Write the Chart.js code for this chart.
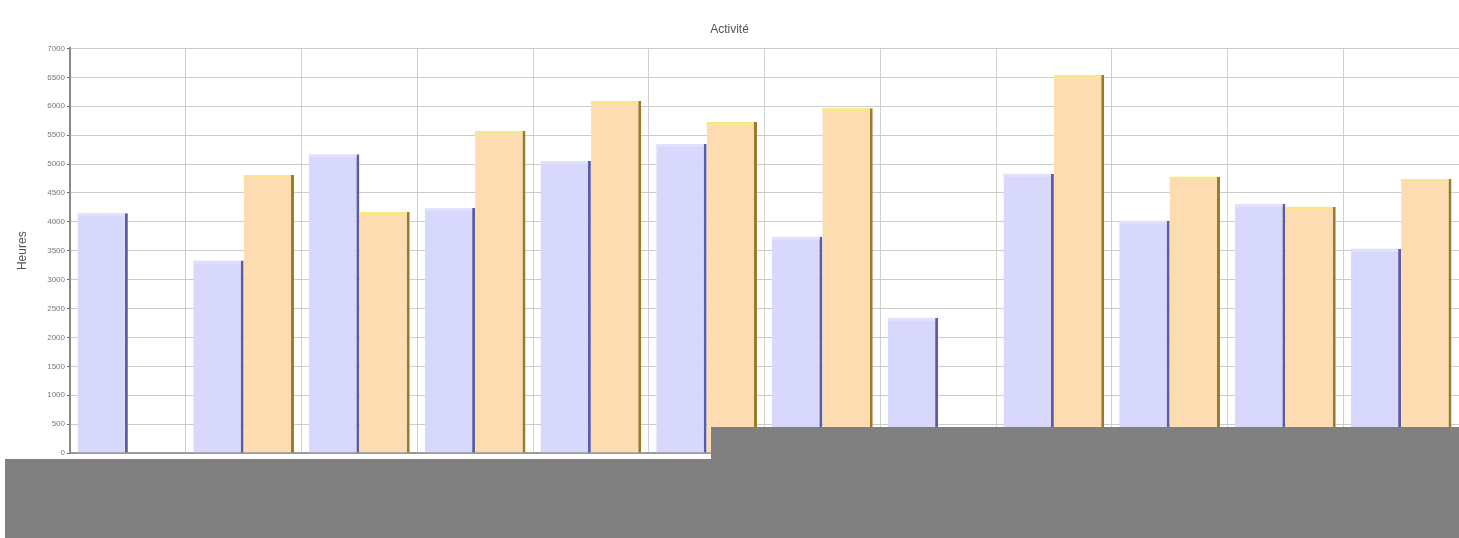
<!DOCTYPE html>
<html>
<head>
<meta charset="utf-8">
<script src="https://cdn.jsdelivr.net/npm/chart.js@4/dist/chart.umd.min.js"></script>
<style>
  html, body { margin: 0; padding: 0; background: #ffffff; overflow: hidden; }
  #wrap { position: relative; width: 1459px; height: 538px; }
  canvas { display: block; }
  .mask { position: absolute; background: #808080; }
</style>
</head>
<body>
<div id="wrap">
  <canvas id="c" width="1459" height="538"></canvas>
  <div class="mask" style="left:5px; top:459px; width:1454px; height:79px;"></div>
  <div class="mask" style="left:711px; top:427px; width:748px; height:32px;"></div>
</div>
<script>
const categories = ["janv.", "févr.", "mars", "avr.", "mai", "juin", "juil.", "août", "sept.", "oct.", "nov.", "déc."];
const seriesA = [4150, 3330, 5170, 4240, 5050, 5345, 3740, 2340, 4830, 4020, 4310, 3535];
const seriesB = [0, 4810, 4170, 5570, 6090, 5725, 5965, 0, 6540, 4780, 4260, 4740];
const yTicks = [0, 500, 1000, 1500, 2000, 2500, 3000, 3500, 4000, 4500, 5000, 5500, 6000, 6500, 7000];

const topHighlight = {
  id: 'topHighlight',
  afterDatasetsDraw(chart) {
    const ctx = chart.ctx;
    const colors = ['rgba(226,226,254,0.9)', '#f6e68c'];
    chart.data.datasets.forEach((ds, i) => {
      const meta = chart.getDatasetMeta(i);
      meta.data.forEach((el, j) => {
        if (!ds.data[j]) return;
        const w = el.width;
        ctx.save();
        ctx.fillStyle = colors[i];
        ctx.fillRect(el.x - w / 2, el.y, w - 3, 3);
        ctx.restore();
      });
    });
  }
};

new Chart(document.getElementById('c'), {
  type: 'bar',
  data: {
    labels: categories,
    datasets: [
      {
        label: 'Série 1',
        data: seriesA,
        backgroundColor: '#d8d8fc',
        borderColor: '#5c5ca6',
        borderWidth: { top: 0, right: 3, bottom: 0, left: 0 },
        borderSkipped: false,
        categoryPercentage: 0.87,
        barPercentage: 1.0
      },
      {
        label: 'Série 2',
        data: seriesB,
        backgroundColor: '#fddcb2',
        borderColor: '#9c7a2a',
        borderWidth: { top: 0, right: 3, bottom: 0, left: 0 },
        borderSkipped: false,
        categoryPercentage: 0.87,
        barPercentage: 1.0
      }
    ]
  },
  options: {
    responsive: false,
    animation: false,
    layout: { padding: { left: 0, right: 0, top: 0, bottom: 85 } },
    plugins: {
      legend: { display: false },
      tooltip: { enabled: false },
      title: {
        display: true,
        text: 'Activité',
        color: '#555555',
        font: { family: 'Liberation Sans, Arial, sans-serif', size: 12, weight: 'normal' },
        padding: { top: 22, bottom: 12 }
      }
    },
    scales: {
      x: {
        offset: true,
        grid: { display: true, offset: true, color: '#cfcfcf', lineWidth: 1, drawTicks: false },
        border: { display: true, color: '#9a9a9a', width: 2 },
        ticks: { display: false }
      },
      y: {
        min: 0,
        max: 7000,
        afterBuildTicks(scale) { scale.ticks = yTicks.map(v => ({ value: v })); },
        afterFit(scale) { scale.width = 70; },
        grid: { color: '#cccccc', lineWidth: 1, tickLength: 3, tickColor: '#666666' },
        border: { display: true, color: '#8a8a8a', width: 2 },
        ticks: {
          color: '#777777',
          padding: 2,
          font: { family: 'Liberation Sans, Arial, sans-serif', size: 8 },
          callback: (v) => String(v)
        },
        title: {
          display: true,
          text: 'Heures',
          color: '#555555',
          font: { family: 'Liberation Sans, Arial, sans-serif', size: 12 },
          padding: { top: 15, bottom: 4 }
        }
      }
    }
  },
  plugins: [topHighlight]
});
</script>
</body>
</html>
